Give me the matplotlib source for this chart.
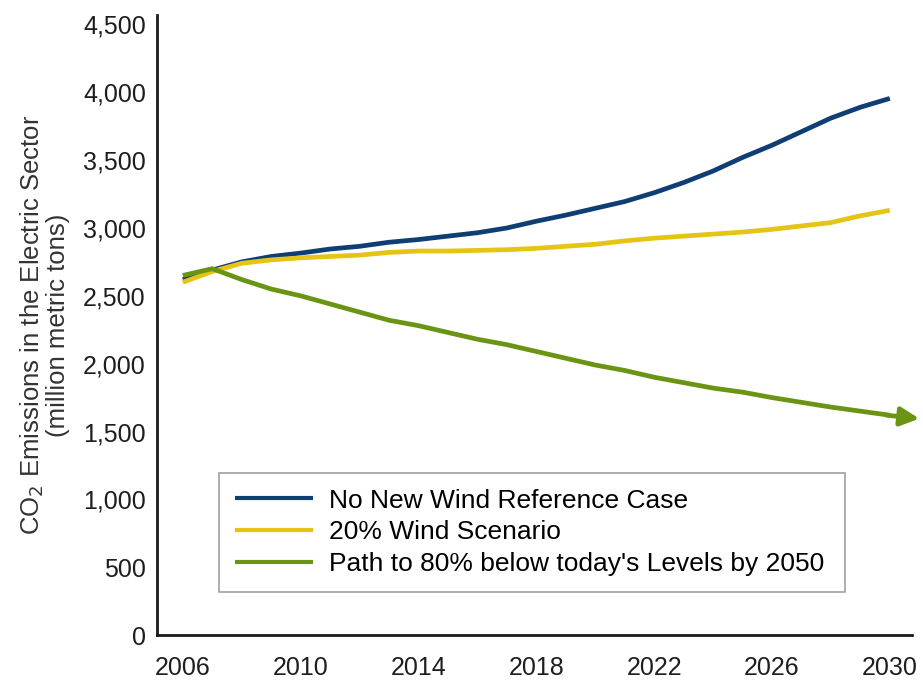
import matplotlib
matplotlib.use("Agg")
import matplotlib.pyplot as plt
from matplotlib.ticker import FuncFormatter

plt.rcParams['font.family'] = ['Liberation Sans', 'DejaVu Sans']

years = list(range(2006, 2031))

# million metric tons
no_new_wind = [2620, 2690, 2750, 2790, 2815, 2845, 2865, 2895, 2915, 2940,
               2965, 3000, 3050, 3095, 3145, 3195, 3260, 3335, 3420, 3520,
               3610, 3710, 3810, 3890, 3955]
wind_20 = [2600, 2680, 2740, 2765, 2780, 2790, 2800, 2820, 2830, 2830,
           2835, 2840, 2850, 2865, 2880, 2905, 2925, 2940, 2955, 2970,
           2990, 3015, 3040, 3090, 3130]
path_80 = [2650, 2700, 2620, 2550, 2500, 2440, 2380, 2320, 2280, 2230,
           2180, 2140, 2090, 2040, 1990, 1950, 1900, 1860, 1820, 1790,
           1750, 1715, 1680, 1650, 1620]
arrow_tip = (2031.0, 1595)

labels = ["No New Wind Reference Case",
          "20% Wind Scenario",
          "Path to 80% below today's Levels by 2050"]
colors = ["#0e3e74", "#e6c416", "#6a9414"]

xticks = [2006, 2010, 2014, 2018, 2022, 2026, 2030]
yticks = list(range(0, 4501, 500))

fig = plt.figure(figsize=(9.23, 6.84), dpi=100)
ax = fig.add_axes([0.170, 0.0716, 0.818, 0.9065])

ax.plot(years, no_new_wind, color=colors[0], lw=3.4, label=labels[0], solid_capstyle='butt')
ax.plot(years, wind_20, color=colors[1], lw=3.4, label=labels[1], solid_capstyle='butt')
ax.plot(years, path_80, color=colors[2], lw=3.4, label=labels[2], solid_capstyle='butt')

# arrow on the end of the 80% path
ax.annotate('', xy=arrow_tip, xytext=(years[-1] - 0.1, path_80[-1]),
            arrowprops=dict(arrowstyle='-|>', color=colors[2], lw=3.4,
                            mutation_scale=28, shrinkA=0, shrinkB=0),
            annotation_clip=False)

ax.set_xlim(2005.12, 2030.75)
ax.set_ylim(0, 4570)
ax.set_xticks(xticks)
ax.set_yticks(yticks)
ax.yaxis.set_major_formatter(FuncFormatter(lambda v, p: f"{int(v):,}"))
ax.tick_params(length=0, labelsize=18, colors='#1e1e1e', pad=8)
ax.tick_params(axis='x', pad=15)

for s in ['top', 'right']:
    ax.spines[s].set_visible(False)
for s in ['left', 'bottom']:
    ax.spines[s].set_color('#1a1a1a')
    ax.spines[s].set_linewidth(2)

ax.set_ylabel("CO$_2$ Emissions in the Electric Sector\n(million metric tons)",
              fontsize=18.5, color='#333333', labelpad=9, linespacing=1.0)

leg = ax.legend(loc='lower left', bbox_to_anchor=(0.082, 0.069, 0.829, 0.202),
                mode='expand', borderaxespad=0, fontsize=19, frameon=True,
                fancybox=False, edgecolor='#888888', handlelength=2.95,
                handletextpad=0.64, labelspacing=0.3, borderpad=0.6)
leg.get_frame().set_linewidth(1.2)
for line in leg.get_lines():
    line.set_linewidth(3)

fig.savefig("out.png", dpi=100)
